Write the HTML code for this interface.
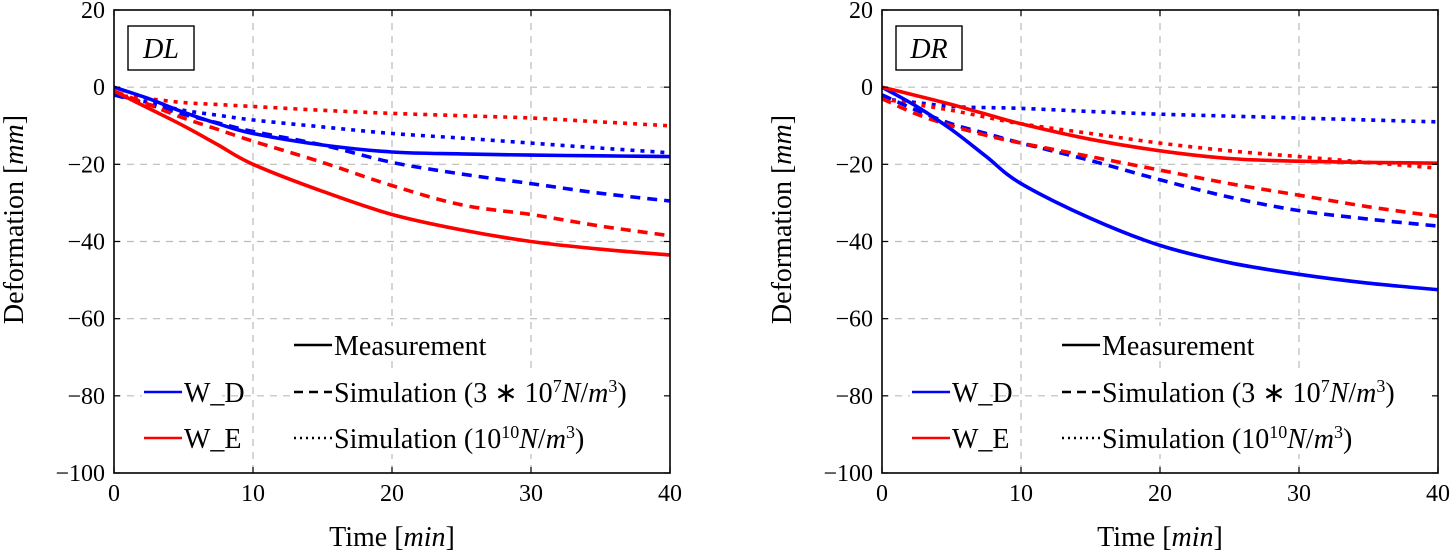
<!DOCTYPE html>
<html><head><meta charset="utf-8"><style>
html,body{margin:0;padding:0;background:#fff;}
svg{display:block;font-family:"Liberation Serif",serif;}
</style></head><body>
<svg id="fig" width="1453" height="554" viewBox="0 0 1453 554"></svg>
<script>
const timeX = [0, 2.5, 5, 7.5, 10, 15, 20, 25, 30, 35, 40];
// DL panel
const dlWDMeas = [0, -3, -6.5, -9.5, -12, -15, -16.8, -17.3, -17.6, -17.8, -18];
const dlWEMeas = [-1, -5.5, -10, -15, -20, -27, -33, -37, -40, -42, -43.5];
const dlWDSim7 = [-2, -4.5, -7, -9.3, -11.5, -15, -19.5, -22.5, -25, -27.5, -29.5];
const dlWESim7 = [-1, -4.5, -8, -11, -14, -19.5, -25.5, -30.5, -33, -36, -38.5];
const dlWDSim10 = [-2, -4, -6, -7.3, -8.5, -10.3, -12, -13.2, -14.5, -15.8, -17];
const dlWESim10 = [-2, -3, -4, -4.5, -5, -6, -6.8, -7.4, -8, -9, -10];
// DR panel
const drWDMeas = [0, -5, -11, -18, -25, -34, -41, -45.5, -48.5, -50.8, -52.5];
const drWEMeas = [0, -2.2, -4.5, -7, -9.5, -13.5, -16.5, -18.5, -19.2, -19.5, -19.7];
const drWDSim7 = [-2, -6, -9.5, -12, -14.5, -19, -24, -28.5, -32, -34.2, -36];
const drWESim7 = [-3, -7, -10, -12.5, -14.5, -18, -21.5, -25, -28, -31, -33.5];
const drWDSim10 = [-3, -4, -5, -5.3, -5.5, -6.3, -7, -7.5, -8, -8.5, -9];
const drWESim10 = [-3, -4.5, -6, -7.8, -9.5, -12, -14.5, -16.5, -18, -19.5, -21];
const xTicks = [0, 10, 20, 30, 40];
const yTicks = [20, 0, -20, -40, -60, -80, -100];

const NS = "http://www.w3.org/2000/svg";
const svg = document.getElementById('fig');
function mk(tag, attrs, parent){const e=document.createElementNS(NS,tag);for(const k in attrs)e.setAttribute(k,attrs[k]);(parent||svg).appendChild(e);return e;}
function smooth(pts){
  let d='M'+pts[0][0].toFixed(1)+' '+pts[0][1].toFixed(1);
  for(let i=0;i<pts.length-1;i++){
    const p0=pts[Math.max(i-1,0)],p1=pts[i],p2=pts[i+1],p3=pts[Math.min(i+2,pts.length-1)];
    const c1=[p1[0]+(p2[0]-p0[0])/6,p1[1]+(p2[1]-p0[1])/6];
    const c2=[p2[0]-(p3[0]-p1[0])/6,p2[1]-(p3[1]-p1[1])/6];
    d+=` C${c1[0].toFixed(1)} ${c1[1].toFixed(1)} ${c2[0].toFixed(1)} ${c2[1].toFixed(1)} ${p2[0].toFixed(1)} ${p2[1].toFixed(1)}`;
  }
  return d;
}

function panel(ox, label, series, key){
  const L=ox, R=ox+556, T=10, B=473;
  const sx=v=>L+(v-0)/40*(R-L);
  const sy=v=>T+(20-v)/120*(B-T);
  const g=mk('g',{});
  
  
  xTicks.forEach(t=>{ if(t>0&&t<40){const l=mk('line',{x1:sx(t),x2:sx(t),y1:T,y2:B,stroke:'#bbb','stroke-width':1.2,'stroke-dasharray':'7 6'},g);
    
    }});
  yTicks.forEach(t=>{ if(t<20&&t>-100){const l=mk('line',{x1:L,x2:R,y1:sy(t),y2:sy(t),stroke:'#bbb','stroke-width':1.2,'stroke-dasharray':'7 6'},g);
    
    }});
  series.forEach(s=>{
    const pts=s.v.map((v,i)=>[sx(timeX[i]),sy(v)]);
    const p=mk('path',{d:smooth(pts),fill:'none',stroke:s.c,'stroke-width':3.6,'stroke-linejoin':'round','stroke-dasharray':s.dash||'none'},g);
    
    
  });
  mk('rect',{x:L+178,y:326,width:220,height:34,fill:'#fff'},g);
  mk('rect',{x:L+28,y:372,width:80,height:82,fill:'#fff'},g);
  mk('rect',{x:L+178,y:372,width:376,height:82,fill:'#fff'},g);
  const sup='baseline-shift="super" font-size="18"';
  const leg=[
    {x:L+180,y:355,dash:'none',c:'#000',t:'Measurement',n:'legend-measurement'},
    {x:L+180,y:402,dash:'9 6',c:'#000',t:`Simulation (3 ∗ 10<tspan ${sup}>7</tspan><tspan font-style="italic">N</tspan>/<tspan font-style="italic">m</tspan><tspan ${sup}>3</tspan>)`,n:'legend-simulation-3e7'},
    {x:L+180,y:448,dash:'2 4',c:'#000',t:`Simulation (10<tspan ${sup}>10</tspan><tspan font-style="italic">N</tspan>/<tspan font-style="italic">m</tspan><tspan ${sup}>3</tspan>)`,n:'legend-simulation-1e10'},
    {x:L+30,y:402,dash:'none',c:'#0000ff',t:'W_D',n:'legend-w-d'},
    {x:L+30,y:448,dash:'none',c:'#ff0000',t:'W_E',n:'legend-w-e'}];
  leg.forEach(e=>{
    const lg=mk('g',{},g);
    
    
    mk('line',{x1:e.x,x2:e.x+38,y1:e.y-10,y2:e.y-10,stroke:e.c,'stroke-width':2.4,'stroke-dasharray':e.dash},lg);
    const tx=mk('text',{x:e.x+40,y:e.y,'font-size':28,fill:'#000'},lg);
    tx.innerHTML=e.t;
  });
  const f=mk('rect',{x:L,y:T,width:R-L,height:B-T,fill:'none',stroke:'#000','stroke-width':1.6},g);
  
  
  xTicks.forEach(t=>{
    mk('line',{x1:sx(t),x2:sx(t),y1:B,y2:B-6,stroke:'#000','stroke-width':1.2},g);
    mk('line',{x1:sx(t),x2:sx(t),y1:T,y2:T+6,stroke:'#000','stroke-width':1.2},g);
    const tx=mk('text',{x:sx(t),y:B+28,'font-size':24,'text-anchor':'middle'},g);
    tx.textContent=t;
    
    
  });
  yTicks.forEach(t=>{
    mk('line',{x1:L,x2:L+6,y1:sy(t),y2:sy(t),stroke:'#000','stroke-width':1.2},g);
    mk('line',{x1:R,x2:R-6,y1:sy(t),y2:sy(t),stroke:'#000','stroke-width':1.2},g);
    const tx=mk('text',{x:L-9,y:sy(t)+8,'font-size':24,'text-anchor':'end'},g);
    tx.textContent=t<0?'−'+(-t):t;
    
    
  });
  mk('rect',{x:L+14,y:26,width:66,height:44,fill:'#fff',stroke:'#000','stroke-width':1.4},g);
  const pl=mk('text',{x:L+47,y:58,'font-size':28,'font-style':'italic','text-anchor':'middle'},g);
  pl.textContent=label;
  
  
  const xt=mk('text',{x:(L+R)/2,y:546,'font-size':28,'text-anchor':'middle'},g);
  xt.innerHTML='Time [<tspan font-style="italic">min</tspan>]';
  
  
  const yt=mk('text',{x:0,y:0,'font-size':28,'text-anchor':'middle',transform:`translate(${L-91},${(T+B)/2-22}) rotate(-90)`},g);
  yt.innerHTML='Deformation [<tspan font-style="italic">mm</tspan>]';
  
  
}
panel(114,'DL',[
 {v:dlWESim10,c:'#ff0000',dash:'4 6',n:'dl-w-e-sim-1e10'},
 {v:dlWDSim10,c:'#0000ff',dash:'4 6',n:'dl-w-d-sim-1e10'},
 {v:dlWDSim7,c:'#0000ff',dash:'10 7',n:'dl-w-d-sim-3e7'},
 {v:dlWESim7,c:'#ff0000',dash:'10 7',n:'dl-w-e-sim-3e7'},
 {v:dlWDMeas,c:'#0000ff',n:'dl-w-d-measurement'},
 {v:dlWEMeas,c:'#ff0000',n:'dl-w-e-measurement'}],'dl');
panel(882,'DR',[
 {v:drWDSim10,c:'#0000ff',dash:'4 6',n:'dr-w-d-sim-1e10'},
 {v:drWESim10,c:'#ff0000',dash:'4 6',n:'dr-w-e-sim-1e10'},
 {v:drWDSim7,c:'#0000ff',dash:'10 7',n:'dr-w-d-sim-3e7'},
 {v:drWESim7,c:'#ff0000',dash:'10 7',n:'dr-w-e-sim-3e7'},
 {v:drWDMeas,c:'#0000ff',n:'dr-w-d-measurement'},
 {v:drWEMeas,c:'#ff0000',n:'dr-w-e-measurement'}],'dr');
</script>
</body></html>
